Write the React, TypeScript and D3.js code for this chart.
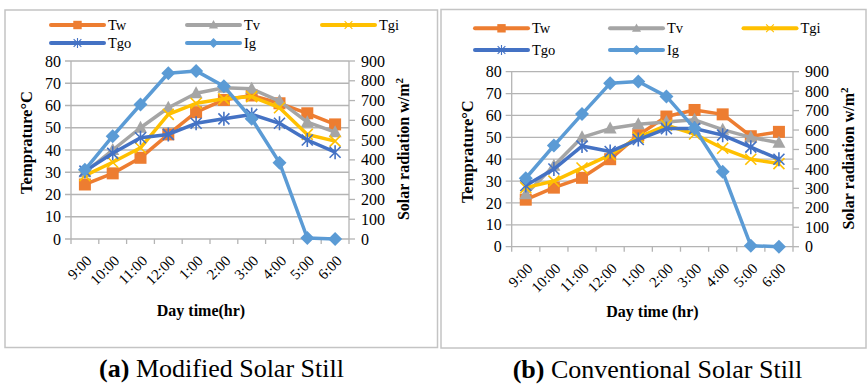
import React from "react";
import * as d3 from "d3";

const categories = ["9:00", "10:00", "11:00", "12:00", "1:00", "2:00", "3:00", "4:00", "5:00", "6:00"];
const tempTicks = [0, 10, 20, 30, 40, 50, 60, 70, 80];
const radTicks = [0, 100, 200, 300, 400, 500, 600, 700, 800, 900];

const seriesNames = ["Tw", "Tv", "Tgi", "Tgo", "Ig"];
const seriesColors = ["#ED7D31", "#A5A5A5", "#FFC000", "#4472C4", "#5B9BD5"];
const seriesShapes = ["square", "triangle", "x", "star", "diamond"];

// (a) Modified Solar Still
const twA = [24.5, 29.5, 36.5, 47, 57, 62.5, 64.5, 61, 56.5, 51.5];
const tvA = [30, 40, 50, 59, 65.5, 68, 67.5, 62, 52.5, 48];
const tgiA = [28.5, 34.5, 41, 56, 61, 63, 64, 59, 47, 44];
const tgoA = [30.5, 38.5, 45.5, 47, 52, 54, 56, 52, 44.5, 39];
const igA = [350, 520, 680, 838, 850, 772, 608, 386, 5, 0];

// (b) Conventional Solar Still
const twB = [21.5, 27, 31.5, 40, 51, 59.5, 62.5, 60.5, 50.5, 52.5];
const tvB = [24, 37, 50, 54, 56, 57, 58, 53.5, 50, 47.5];
const tgiB = [27, 30, 36, 42, 50, 55.5, 51.5, 45, 40, 38];
const tgoB = [28, 35.5, 46, 43.5, 49, 54, 54, 51, 45.5, 40];
const igB = [352, 520, 682, 840, 850, 773, 609, 386, 5, 0];

const FONT = "Liberation Serif, LiberationSerif, Times New Roman, Times, Tinos, serif";
const GRID = "#b4b4b4";

function Marker({ shape, x, y, color, s = 1 }: any) {
  const t = `translate(${x},${y}) scale(${s})`;
  if (shape === "square") return <rect transform={t} x={-6} y={-6} width={12} height={12} fill={color} />;
  if (shape === "triangle") return <path transform={t} d="M0,-7L6.5,5L-6.5,5Z" fill={color} />;
  if (shape === "diamond") return <path transform={t} d="M0,-7L7,0L0,7L-7,0Z" fill={color} />;
  if (shape === "x")
    return <path transform={t} d="M-5.5,-5.5L5.5,5.5M-5.5,5.5L5.5,-5.5" stroke={color} strokeWidth={1.6} fill="none" />;
  return <path transform={t} d="M-5.5,-5.5L5.5,5.5M-5.5,5.5L5.5,-5.5M0,-7L0,7" stroke={color} strokeWidth={1.6} fill="none" />;
}

function Panel(p: any) {
  const x = d3.scaleBand().domain(categories).range([p.left, p.right]);
  const y = d3.scaleLinear().domain([0, 80]).range([p.bottom, p.top]);
  const y2 = d3.scaleLinear().domain([0, 900]).range([p.bottom, p.top]);
  const cx = (c: string) => (x(c) as number) + x.bandwidth() / 2;
  const temps = [p.tw, p.tv, p.tgi, p.tgo];
  const lineT = d3.line<number>().x((_, i) => cx(categories[i])).y((v) => y(v));
  const lineR = d3.line<number>().x((_, i) => cx(categories[i])).y((v) => y2(v));
  const all = [...temps.map((d: number[]) => ({ d, path: lineT(d), sc: y })), { d: p.ig, path: lineR(p.ig), sc: y2 }];
  const boundaries = [...categories.map((c) => x(c) as number), p.right];
  return (
    <g style={{ fontFamily: FONT }}>
      <rect x={p.bx} y={p.by} width={p.bw} height={p.bh} fill="#fff" stroke="#c4c4c4" strokeWidth={1.5} />
      {tempTicks.map((t) => (
        <g key={t}>
          <line x1={p.left - 6} x2={p.right} y1={y(t)} y2={y(t)} stroke={GRID} strokeWidth={1.3} />
          <text x={p.left - 10} y={y(t)} dy="0.35em" textAnchor="end" fontSize={16}>{t}</text>
        </g>
      ))}
      {radTicks.map((t) => (
        <g key={t}>
          <line x1={p.right} x2={p.right + 6} y1={y2(t)} y2={y2(t)} stroke={GRID} strokeWidth={1.3} />
          <text x={p.right + 12} y={y2(t)} dy="0.35em" fontSize={16}>{t}</text>
        </g>
      ))}
      <line x1={p.left} x2={p.left} y1={p.top} y2={p.bottom} stroke={GRID} strokeWidth={1.3} />
      <line x1={p.right} x2={p.right} y1={p.top} y2={p.bottom} stroke={GRID} strokeWidth={1.3} />
      {boundaries.map((b, i) => (
        <line key={i} x1={b} x2={b} y1={p.bottom} y2={p.bottom + 5} stroke={GRID} strokeWidth={1.3} />
      ))}
      {categories.map((c) => (
        <text key={c} transform={`translate(${cx(c) + 4},${p.bottom + 19}) rotate(-45)`} textAnchor="end" dy="0.35em" fontSize={15}>{c}</text>
      ))}
      {all.map((s, i) => (
        <g key={i}>
          <path d={s.path as string} fill="none" stroke={seriesColors[i]} strokeWidth={3.5} strokeLinejoin="round" />
          {s.d.map((v: number, j: number) => (
            <Marker key={j} shape={seriesShapes[i]} x={cx(categories[j])} y={s.sc(v)} color={seriesColors[i]} />
          ))}
        </g>
      ))}
      {seriesNames.map((n, i) => {
        const lx = p.legX[i % 3];
        const ly = p.legY[Math.floor(i / 3)];
        return (
          <g key={n}>
            <line x1={lx} x2={lx + 53} y1={ly} y2={ly} stroke={seriesColors[i]} strokeWidth={4} strokeLinecap="round" />
            <Marker shape={seriesShapes[i]} x={lx + 26.5} y={ly} color={seriesColors[i]} s={0.7} />
            <text x={lx + 57} y={ly} dy="0.35em" fontSize={14.5}>{n}</text>
          </g>
        );
      })}
      <text transform={`translate(${p.yt[0]},${p.yt[1]}) rotate(-90)`} textAnchor="middle" dy="0.35em" fontSize={16.5} fontWeight="bold">Temprature°C</text>
      <text transform={`translate(${p.y2t[0]},${p.y2t[1]}) rotate(-90)`} textAnchor="middle" dy="0.35em" fontSize={16} fontWeight="bold">
        Solar radiation w/m<tspan dy="-0.5em" fontSize={11}>2</tspan>
      </text>
      <text x={p.xt[0]} y={p.xt[1]} textAnchor="middle" dy="0.35em" fontSize={16} fontWeight="bold">{p.xTitle}</text>
      <text x={p.cap[0]} y={p.cap[1]} textAnchor="middle" fontSize={26}>
        <tspan fontWeight="bold">{p.capBold}</tspan> {p.capText}
      </text>
    </g>
  );
}

export default function App() {
  return (
    <svg width={867} height={385} style={{ position: "absolute", left: 0, top: 0, background: "#fff" }}>
      <rect width={867} height={385} fill="#fff" />
      <Panel
        bx={5} by={10} bw={432.5} bh={337.5}
        left={71} right={349} top={61} bottom={239}
        tw={twA} tv={tvA} tgi={tgiA} tgo={tgoA} ig={igA}
        legX={[51, 187, 322]} legY={[25, 43]}
        yt={[26, 142.5]} y2t={[403, 149]} xt={[201, 310]} xTitle="Day time(hr)"
        cap={[221.5, 377]} capBold="(a)" capText="Modified Solar Still"
      />
      <Panel
        bx={441} by={9.5} bw={425} bh={338.5}
        left={511.7} right={793} top={71.7} bottom={246.7}
        tw={twB} tv={tvB} tgi={tgiB} tgo={tgoB} ig={igB}
        legX={[475, 610, 743.5]} legY={[28.3, 50]}
        yt={[467.5, 151.7]} y2t={[848, 158.5]} xt={[652.5, 311.7]} xTitle="Day time (hr)"
        cap={[657.5, 378]} capBold="(b)" capText="Conventional Solar Still"
      />
    </svg>
  );
}
